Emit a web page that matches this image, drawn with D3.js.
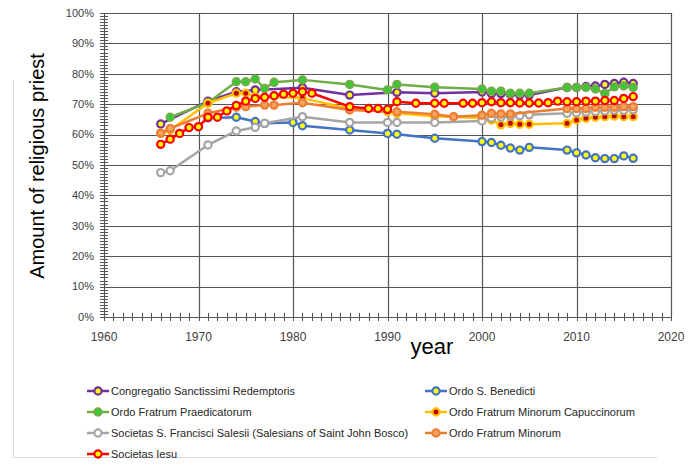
<!DOCTYPE html>
<html>
<head>
<meta charset="utf-8">
<script src="https://cdn.jsdelivr.net/npm/d3@7"></script>
<style>
  body { margin: 0; background: #fff; }
  text { font-family: "Liberation Sans", Arial, sans-serif; }
</style>
</head>
<body>
<script>
// values (percent of religious priests)
var redemptoristYears = [1966, 1971, 1974, 1976, 1981, 1986, 1991, 1995, 2000, 2001, 2002, 2003, 2004, 2005, 2009, 2010, 2011, 2012, 2013, 2014, 2015, 2016];
var redemptoristVals  = [63.5, 71.0, 74.1, 74.7, 75.4, 73.0, 73.9, 73.6, 74.0, 73.5, 73.5, 73.3, 73.0, 73.0, 75.5, 75.5, 75.8, 76.0, 76.5, 76.8, 77.2, 76.8];

var benedictYears = [1971, 1974, 1976, 1977, 1980, 1981, 1986, 1990, 1991, 1995, 2000, 2001, 2002, 2003, 2004, 2005, 2009, 2010, 2011, 2012, 2013, 2014, 2015, 2016];
var benedictVals  = [65.5, 65.7, 64.3, 63.7, 64.0, 62.9, 61.5, 60.4, 60.1, 58.8, 57.7, 57.4, 56.5, 55.6, 54.9, 55.8, 54.9, 54.0, 53.3, 52.4, 52.1, 52.1, 53.0, 52.2];

var dominicanYears = [1967, 1971, 1974, 1975, 1976, 1977, 1978, 1981, 1986, 1990, 1991, 1995, 2000, 2001, 2002, 2003, 2004, 2005, 2009, 2010, 2011, 2012, 2013, 2014, 2015, 2016];
var dominicanVals  = [65.7, 70.5, 77.4, 77.4, 78.3, 75.2, 77.2, 78.0, 76.5, 74.7, 76.5, 75.6, 75.0, 74.3, 74.3, 73.6, 73.6, 73.6, 75.5, 75.5, 75.5, 75.0, 73.5, 75.7, 76.0, 75.5];

var capuchinYears = [1966, 1967, 1971, 1974, 1975, 1976, 1981, 1986, 1990, 1991, 1995, 2000, 2001, 2002, 2003, 2004, 2005, 2009, 2010, 2011, 2012, 2013, 2014, 2015, 2016];
var capuchinVals  = [60.4, 61.5, 70.3, 73.6, 73.6, 72.5, 72.0, 68.5, 67.5, 67.0, 66.0, 65.5, 64.8, 63.2, 63.7, 63.4, 63.4, 63.7, 64.8, 65.4, 65.7, 65.9, 66.1, 65.9, 65.9];

var salesianYears = [1966, 1967, 1971, 1974, 1976, 1977, 1981, 1986, 1990, 1991, 1995, 2000, 2001, 2002, 2003, 2004, 2005, 2009, 2010, 2011, 2012, 2013, 2014, 2015, 2016];
var salesianVals  = [47.5, 48.1, 56.6, 61.2, 62.4, 63.7, 65.9, 64.0, 64.0, 64.0, 64.0, 64.5, 65.5, 65.8, 66.0, 66.2, 66.5, 67.0, 67.2, 67.4, 67.6, 67.8, 68.0, 68.0, 68.2];

var franciscanYears = [1966, 1967, 1971, 1974, 1975, 1977, 1978, 1981, 1986, 1991, 1995, 1997, 2000, 2001, 2002, 2003, 2009, 2010, 2011, 2012, 2013, 2014, 2015, 2016];
var franciscanVals  = [60.5, 62.0, 67.0, 69.0, 69.2, 69.7, 69.7, 70.5, 68.1, 67.5, 66.7, 65.9, 66.4, 67.0, 66.8, 66.8, 68.6, 68.6, 68.6, 69.0, 69.0, 69.0, 69.2, 69.2];

var jesuitYears = [1966, 1967, 1968, 1969, 1970, 1971, 1972, 1973, 1974, 1975, 1976, 1977, 1978, 1979, 1980, 1981, 1982, 1986, 1988, 1989, 1990, 1991, 1993, 1995, 1996, 1998, 1999, 2000, 2001, 2002, 2003, 2004, 2005, 2006, 2007, 2008, 2009, 2010, 2011, 2012, 2013, 2014, 2015, 2016];
var jesuitVals  = [56.8, 58.5, 60.4, 62.3, 62.6, 65.7, 65.7, 67.8, 69.6, 71.0, 71.9, 72.3, 72.8, 73.3, 73.6, 74.1, 73.6, 69.2, 68.6, 68.6, 68.3, 70.8, 70.3, 70.3, 70.3, 70.3, 70.3, 70.5, 70.8, 70.5, 70.5, 70.4, 70.4, 70.4, 70.5, 71.0, 70.8, 70.8, 71.0, 71.0, 71.2, 71.2, 71.9, 72.5];

var seriesNames = [
  "Congregatio Sanctissimi Redemptoris",
  "Ordo S. Benedicti",
  "Ordo Fratrum Praedicatorum",
  "Ordo Fratrum Minorum Capuccinorum",
  "Societas S. Francisci Salesii (Salesians of Saint John Bosco)",
  "Ordo Fratrum Minorum",
  "Societas Iesu"
];
var xTicks = [1960, 1970, 1980, 1990, 2000, 2010, 2020];
var yTicks = [0, 10, 20, 30, 40, 50, 60, 70, 80, 90, 100];

// line colour, marker stroke, marker fill
var styles = [
  {line: "#7030A0", stroke: "#7030A0", fill: "#FFFF00"},
  {line: "#4472C4", stroke: "#4472C4", fill: "#FFFF00"},
  {line: "#70AD47", stroke: "#70AD47", fill: "#33CC33"},
  {line: "#FFC000", stroke: "#FFC000", fill: "#C00000"},
  {line: "#A5A5A5", stroke: "#A5A5A5", fill: "#FFFFFF"},
  {line: "#ED7D31", stroke: "#ED7D31", fill: "#F4A460"},
  {line: "#FF0000", stroke: "#FF0000", fill: "#FFFF00"}
];

var yearsList = [redemptoristYears, benedictYears, dominicanYears, capuchinYears, salesianYears, franciscanYears, jesuitYears];
var valsList = [redemptoristVals, benedictVals, dominicanVals, capuchinVals, salesianVals, franciscanVals, jesuitVals];

var series = seriesNames.map(function(name, i) {
  return {
    name: name,
    style: styles[i],
    points: yearsList[i].map(function(yr, j) { return {year: yr, value: valsList[i][j]}; })
  };
});

var W = 691, H = 464;
var margin = {top: 13, right: 20, bottom: 147, left: 104},
    width = 671 - margin.left,
    height = 317 - margin.top;

var svg = d3.select("body").append("svg")
    .attr("width", W)
    .attr("height", H);

// faint chart frame (partly visible in the original)
svg.append("path")
    .attr("d", "M13.5,80 V457.5 H657")
    .attr("fill", "none")
    .attr("stroke", "#d9d9d9")
    .attr("stroke-width", 1);

var g = svg.append("g")
    .attr("transform", "translate(" + margin.left + "," + margin.top + ")");

var x = d3.scaleLinear().domain([1960, 2020]).range([0, width]);
var y = d3.scaleLinear().domain([0, 100]).range([height, 0]);

// gridlines
g.selectAll(".hgrid")
    .data(yTicks.slice(1))
    .enter().append("line")
    .attr("x1", 0).attr("x2", width)
    .attr("y1", function(d) { return Math.round(y(d)) + 0.5; })
    .attr("y2", function(d) { return Math.round(y(d)) + 0.5; })
    .attr("stroke", "#555").attr("stroke-width", 1.2);

g.selectAll(".vgrid")
    .data(xTicks.slice(1))
    .enter().append("line")
    .attr("x1", function(d) { return Math.round(x(d)) + 0.5; })
    .attr("x2", function(d) { return Math.round(x(d)) + 0.5; })
    .attr("y1", 0).attr("y2", height)
    .attr("stroke", "#555").attr("stroke-width", 1.2);

// minor ticks
var xMinor = d3.range(1960, 2021, 1);
var yMinor = d3.range(0, 100.1, 1);

var xAxis = g.append("g")
    .attr("transform", "translate(0," + height + ")");
xAxis.append("line")
    .attr("x1", 0).attr("x2", width).attr("y1", 0.5).attr("y2", 0.5)
    .attr("stroke", "#555").attr("stroke-width", 1.2);
xAxis.selectAll(".mt")
    .data(xMinor)
    .enter().append("line")
    .attr("x1", function(d) { return Math.round(x(d)) + 0.5; })
    .attr("x2", function(d) { return Math.round(x(d)) + 0.5; })
    .attr("y1", -4).attr("y2", 4)
    .attr("stroke", "#555").attr("stroke-width", 1);
xAxis.selectAll(".tl")
    .data(xTicks)
    .enter().append("text")
    .attr("x", function(d) { return x(d); })
    .attr("y", 24)
    .attr("text-anchor", "middle")
    .attr("fill", "#404040")
    .style("font-size", "12px")
    .text(function(d) { return d; });

var yAxis = g.append("g");
yAxis.append("line")
    .attr("x1", 0.5).attr("x2", 0.5).attr("y1", 0).attr("y2", height)
    .attr("stroke", "#555").attr("stroke-width", 1.2);
yAxis.selectAll(".mt")
    .data(yMinor)
    .enter().append("line")
    .attr("y1", function(d) { return Math.round(y(d)) + 0.5; })
    .attr("y2", function(d) { return Math.round(y(d)) + 0.5; })
    .attr("x1", -4).attr("x2", 4)
    .attr("stroke", "#555").attr("stroke-width", 1);
yAxis.selectAll(".tl")
    .data(yTicks)
    .enter().append("text")
    .attr("x", -10)
    .attr("y", function(d) { return y(d); })
    .attr("dy", "0.35em")
    .attr("text-anchor", "end")
    .attr("fill", "#404040")
    .style("font-size", "11px")
    .text(function(d) { return d + "%"; });

// axis titles
svg.append("text")
    .attr("transform", "translate(44,166) rotate(-90)")
    .attr("text-anchor", "middle")
    .attr("fill", "#000")
    .style("font-size", "20px")
    .text("Amount of religious priest");

svg.append("text")
    .attr("x", 432)
    .attr("y", 354)
    .attr("text-anchor", "middle")
    .attr("fill", "#000")
    .style("font-size", "22px")
    .text("year");

// series
var line = d3.line()
    .x(function(d) { return x(d.year); })
    .y(function(d) { return y(d.value); });

var sg = g.selectAll(".series")
    .data(series)
    .enter().append("g");

sg.append("path")
    .attr("d", function(d) { return line(d.points); })
    .attr("fill", "none")
    .attr("stroke", function(d) { return d.style.line; })
    .attr("stroke-width", 2.5)
    .attr("stroke-linejoin", "round");

sg.each(function(s) {
  d3.select(this).selectAll("circle")
      .data(s.points)
      .enter().append("circle")
      .attr("cx", function(d) { return x(d.year); })
      .attr("cy", function(d) { return y(d.value); })
      .attr("r", 3.6)
      .attr("fill", s.style.fill)
      .attr("stroke", s.style.stroke)
      .attr("stroke-width", 2.2);
});

// legend
var legend = svg.append("g");
var legItems = legend.selectAll("g")
    .data(series)
    .enter().append("g")
    .attr("transform", function(d, i) {
      var col = i % 2, row = Math.floor(i / 2);
      var lx = col === 0 ? 87 : 425;
      var ly = [391, 412, 433, 454][row];
      return "translate(" + lx + "," + ly + ")";
    });
legItems.append("line")
    .attr("x1", 0).attr("x2", 22).attr("y1", 0).attr("y2", 0)
    .attr("stroke", function(d) { return d.style.line; })
    .attr("stroke-width", 2.5);
legItems.append("circle")
    .attr("cx", 11).attr("cy", 0).attr("r", 3.6)
    .attr("fill", function(d) { return d.style.fill; })
    .attr("stroke", function(d) { return d.style.stroke; })
    .attr("stroke-width", 2.2);
legItems.append("text")
    .attr("x", 24)
    .attr("y", 0)
    .attr("dy", "0.35em")
    .attr("fill", "#262626")
    .style("font-size", "11px")
    .text(function(d) { return d.name; });
</script>
</body>
</html>
